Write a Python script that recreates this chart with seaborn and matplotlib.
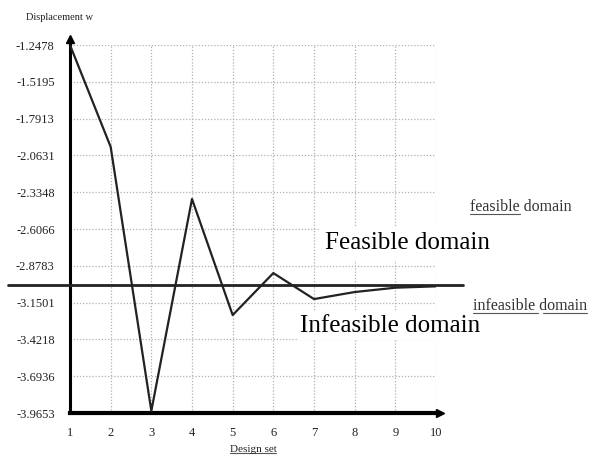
import matplotlib
matplotlib.use("Agg")
import matplotlib.pyplot as plt
import seaborn as sns
import pandas as pd
from matplotlib.lines import Line2D

design_set = [1, 2, 3, 4, 5, 6, 7, 8, 9, 10]
displacement = [-1.2478, -2.00, -3.95, -2.385, -3.242, -2.932, -3.124, -3.072, -3.04, -3.03]
y_ticks = [-1.2478, -1.5195, -1.7913, -2.0631, -2.3348, -2.6066, -2.8783,
           -3.1501, -3.4218, -3.6936, -3.9653]
x_ticks = [1, 2, 3, 4, 5, 6, 7, 8, 9, 10]
threshold = -3.02

sns.set_theme(style="white")
plt.rcParams['font.family'] = ['Liberation Serif', 'DejaVu Serif']

df = pd.DataFrame({"Design set": design_set, "Displacement w": displacement})

fig = plt.figure(figsize=(5.92, 4.61), dpi=100)
ax = fig.add_axes([70/592, 48/461, 366/592, 368/461])

ax.set_xlim(1, 10)
ax.set_ylim(y_ticks[-1], y_ticks[0])
ax.set_xticks(x_ticks)
ax.set_yticks(y_ticks)
ax.set_yticklabels([f"{v:.4f}" for v in y_ticks])
ax.tick_params(axis='both', length=0, labelsize=9, colors='#222222')
ax.tick_params(axis='y', pad=11)
ax.tick_params(axis='x', pad=10)
ax.grid(True, linestyle=(0, (1, 1.5)), color='#b0b0b0', linewidth=0.9)

for s in ['top', 'right']:
    ax.spines[s].set_visible(False)
ax.spines['left'].set_linewidth(2.2)
ax.spines['bottom'].set_linewidth(3)
ax.spines['left'].set_color('black')
ax.spines['bottom'].set_color('black')

# arrows on axes
ax.plot(0, 1.015, marker='^', color='black', markersize=5.5, transform=ax.transAxes, clip_on=False)
ax.plot([0, 0], [1, 1.012], color='black', lw=2.2, transform=ax.transAxes, clip_on=False)
ax.plot(1.012, 0, marker='>', color='black', markersize=6, transform=ax.transAxes, clip_on=False)

# threshold line between feasible / infeasible
ax.axhline(threshold, xmin=-0.17, xmax=1.074, color='#222222', lw=2.0, clip_on=False, zorder=3)

sns.lineplot(data=df, x="Design set", y="Displacement w", ax=ax, color='#222222',
             linewidth=1.6, zorder=4)
ax.set_xlabel("")
ax.set_ylabel("")

fig.text(26/592, 1 - 17/461, "Displacement w", fontsize=7.5, ha='left', va='center', color='#222222')
t_design = fig.text(253/592, 1 - 449/461, "Design set", fontsize=8, ha='center', va='center', color='#222222')

ax.text(9.29, -2.71, "Feasible domain", fontsize=18, ha='center', va='center', color='black',
        bbox=dict(facecolor='white', edgecolor='none', pad=4), zorder=5)
ax.text(8.87, -3.323, "Infeasible domain", fontsize=18, ha='center', va='center', color='black',
        bbox=dict(facecolor='white', edgecolor='none', pad=2), zorder=5)
t_feas = ax.text(10.84, -2.444, "feasible domain", fontsize=11.5, ha='left', va='center',
                 color='#333333', clip_on=False)
t_infeas = ax.text(10.91, -3.175, "infeasible domain", fontsize=11.5, ha='left', va='center',
                   color='#333333', clip_on=False)

# underlines
fig.canvas.draw()
r = fig.canvas.get_renderer()
inv = fig.transFigure.inverted()

def underline(txt, segs):
    bb = txt.get_window_extent(renderer=r)
    w = bb.x1 - bb.x0
    y = bb.y0 + 1
    for a, b in segs:
        p0 = inv.transform((bb.x0 + a * w, y))
        p1 = inv.transform((bb.x0 + b * w, y))
        fig.add_artist(Line2D([p0[0], p1[0]], [p0[1], p1[1]], color='#555555', lw=0.8))

underline(t_design, [(0.0, 1.0)])
underline(t_feas, [(0.0, 0.49)])
underline(t_infeas, [(0.0, 0.57), (0.61, 1.0)])

fig.savefig("out.png", dpi=100, facecolor='white')
